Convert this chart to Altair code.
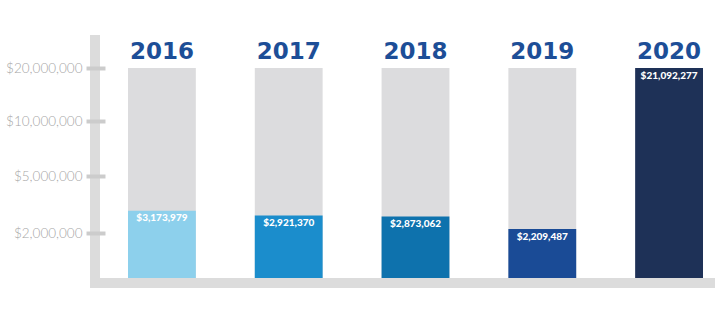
import altair as alt
import pandas as pd

years = ["2016", "2017", "2018", "2019", "2020"]
amounts = [3173979, 2921370, 2873062, 2209487, 21092277]
bar_colors = ["#8dd0ec", "#1b8dcc", "#0e72ad", "#1a4b96", "#1e3157"]
tick_values = [2000000, 5000000, 10000000, 20000000]
scale_max = 20000000

df = pd.DataFrame({"year": years, "amount": amounts, "top": [scale_max] * len(years)})

x_scale = alt.Scale(domain=years, range=[128, 703], paddingInner=0.465, paddingOuter=0)
y_scale = alt.Scale(domain=[0] + tick_values, range=[278, 233, 176, 121, 68],
                    clamp=True, zero=False, nice=False)
color_scale = alt.Scale(domain=years, range=bar_colors)

one = alt.Data(values=[{}])
AXIS_GRAY = "#dcdcdc"

vbar = alt.Chart(one).mark_rect(color=AXIS_GRAY).encode(
    x=alt.value(90), x2=alt.value(100), y=alt.value(35), y2=alt.value(288))
hbar = alt.Chart(one).mark_rect(color=AXIS_GRAY).encode(
    x=alt.value(90), x2=alt.value(715), y=alt.value(278), y2=alt.value(288))

base = alt.Chart(df)

bg = base.mark_bar(color="#dcdcde").encode(
    x=alt.X("year:N", scale=x_scale, axis=None),
    y=alt.Y("top:Q", scale=y_scale,
            axis=alt.Axis(values=tick_values, format="$,d", title=None, domain=False, grid=False,
                          tickColor="#cccccc", tickWidth=4, tickSize=19, offset=-105,
                          labelPadding=4, labelFont="Lato", labelFontWeight=300,
                          labelFontSize=13.5, labelColor="#a6a6a6", zindex=1)),
    y2=alt.Y2(datum=0),
)

bars = base.mark_bar().encode(
    x=alt.X("year:N", scale=x_scale, axis=None),
    y=alt.Y("amount:Q", scale=y_scale),
    y2=alt.Y2(datum=0),
    color=alt.Color("year:N", scale=color_scale, legend=None),
)

vals = base.mark_text(color="white", font="Lato", fontWeight=900, fontSize=10,
                      baseline="alphabetic", dy=10.5).encode(
    x=alt.X("year:N", scale=x_scale, axis=None, bandPosition=0.5),
    y=alt.Y("amount:Q", scale=y_scale),
    text=alt.Text("amount:Q", format="$,d"),
)

year_labels = base.mark_text(color="#1d4e97", font="DejaVu Sans", fontWeight="bold", fontSize=23,
                             baseline="alphabetic").encode(
    x=alt.X("year:N", scale=x_scale, axis=None, bandPosition=0.5),
    y=alt.value(59),
    text="year:N",
)

chart = alt.layer(vbar, hbar, bg, bars, vals, year_labels).properties(
    width=720, height=324, autosize=alt.AutoSizeParams(type="none"), padding=0,
    background="white"
).configure_view(stroke=None)

chart.save("out.html", embed_options={"renderer": "svg", "actions": False})
